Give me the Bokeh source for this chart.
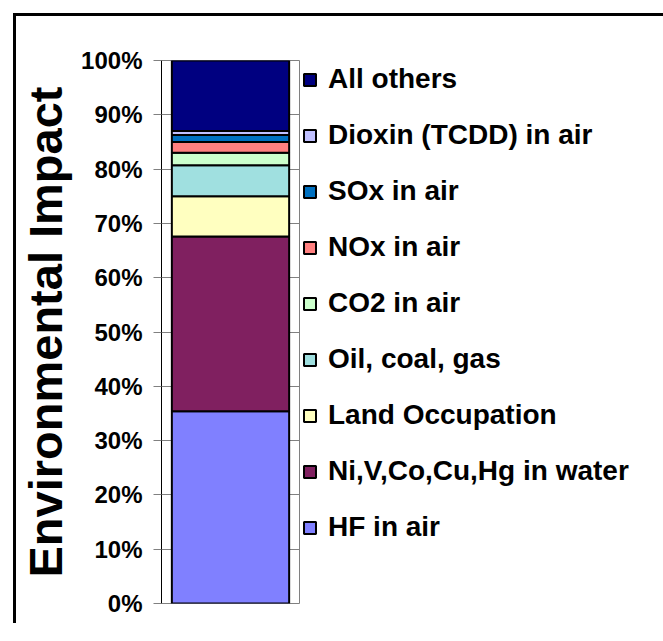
from bokeh.plotting import figure
from bokeh.models import Range1d, FixedTicker, Legend, LegendItem, FactorRange
from bokeh.embed import file_html
from bokeh.resources import INLINE

categories = ["HF in air", "Ni,V,Co,Cu,Hg in water", "Land Occupation",
              "Oil, coal, gas", "CO2 in air", "NOx in air", "SOx in air",
              "Dioxin (TCDD) in air", "All others"]
shares = [35.4, 32.2, 7.4, 5.7, 2.3, 2.0, 1.3, 0.7, 13.0]
colors = ["#8080FF", "#802060", "#FFFFC0", "#A0E0E0", "#CCFFCC",
          "#FF8080", "#0070C0", "#C0C0FF", "#000080"]
product = ["Total"]
tick_values = [0, 10, 20, 30, 40, 50, 60, 70, 80, 90, 100]
tick_labels = ["0%", "10%", "20%", "30%", "40%", "50%", "60%", "70%", "80%", "90%", "100%"]

data = {"x": product}
for c, v in zip(categories, shares):
    data[c] = [v]

FONT = "Liberation Sans"

p = figure(x_range=FactorRange(*product), y_range=Range1d(0, 100),
           frame_width=138, frame_height=543,
           min_border_left=144, min_border_top=44, min_border_bottom=20,
           min_border_right=0,
           output_backend="svg", toolbar_location=None)
# chart-area border: only its top and left edges fall inside the window
p.styles = {"border-top": "3px solid #000", "border-left": "3px solid #000",
            "margin-left": "13px", "margin-top": "13px"}

renderers = p.vbar_stack(categories, x="x", width=0.85, fill_color=colors,
                         line_color="black", line_width=2, source=data)

p.xaxis.visible = False
p.xgrid.visible = False
p.outline_line_color = "#808080"
p.outline_line_width = 1

p.yaxis.ticker = FixedTicker(ticks=tick_values)
p.ygrid.ticker = FixedTicker(ticks=tick_values)
p.ygrid.grid_line_color = "#808080"
p.yaxis.major_label_overrides = dict(zip(tick_values, tick_labels))
p.yaxis.minor_tick_line_color = None
p.yaxis.major_tick_in = 0
p.yaxis.major_tick_out = 8
p.yaxis.major_tick_line_color = "#808080"
p.yaxis.axis_line_color = "black"
p.yaxis.major_label_standoff = 11
p.yaxis.major_label_text_font = FONT
p.yaxis.major_label_text_font_style = "bold"
p.yaxis.major_label_text_font_size = "24px"
p.yaxis.major_label_text_color = "black"
p.yaxis.axis_label = "Environmental Impact"
p.yaxis.axis_label_text_font = FONT
p.yaxis.axis_label_text_font_style = "bold"
p.yaxis.axis_label_text_font_size = "47px"
p.yaxis.axis_label_text_color = "black"
p.yaxis.axis_label_standoff = 6

items = [LegendItem(label=c, renderers=[r])
         for c, r in reversed(list(zip(categories, renderers)))]
legend = Legend(items=items, location="top_left",
                glyph_width=15, glyph_height=15, label_height=31, spacing=24,
                label_standoff=11, padding=7, margin=3,
                label_text_font=FONT, label_text_font_style="bold",
                label_text_font_size="28px", label_text_color="black",
                border_line_color=None, background_fill_color="white")
p.add_layout(legend, "right")

open("out.html", "w").write(file_html(p, INLINE))
